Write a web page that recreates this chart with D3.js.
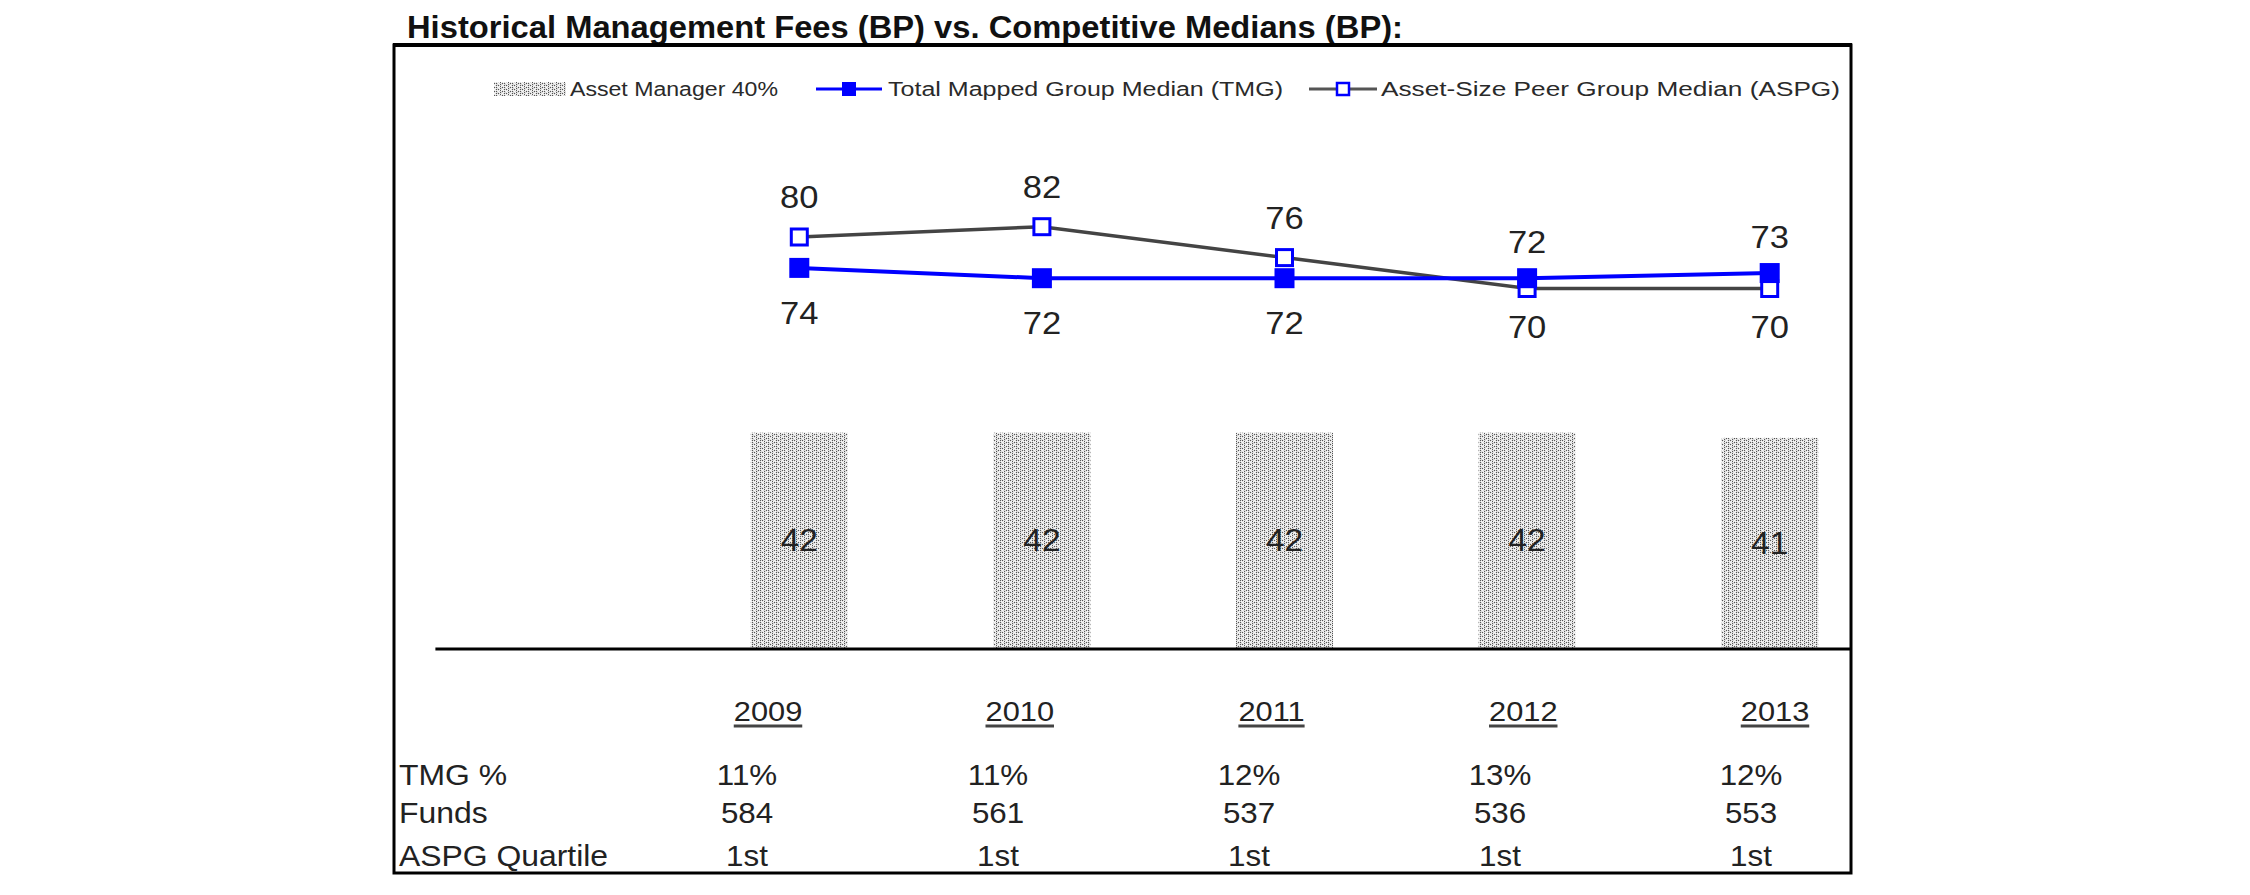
<!DOCTYPE html>
<html><head><meta charset="utf-8">
<script src="https://cdn.jsdelivr.net/npm/d3@7"></script>
<style>html,body{margin:0;padding:0;background:#fff;} svg{display:block;} text{font-family:"Liberation Sans", Arial, sans-serif;}</style>
</head><body><svg id="chart" width="2250" height="895"></svg>
<script>
// ---------- data ----------
const years = ["2009", "2010", "2011", "2012", "2013"];
const assetManager = [42, 42, 42, 42, 41];
const tmgMedian = [74, 72, 72, 72, 73];
const aspgMedian = [80, 82, 76, 70, 70];
const tmgPct = ["11%", "11%", "12%", "13%", "12%"];
const funds = ["584", "561", "537", "536", "553"];
const aspgQuartile = ["1st", "1st", "1st", "1st", "1st"];
const rowLabels = ["TMG %", "Funds", "ASPG Quartile"];
const legendLabels = ["Asset Manager 40%", "Total Mapped Group Median (TMG)", "Asset-Size Peer Group Median (ASPG)"];
const titleText = "Historical Management Fees (BP) vs. Competitive Medians (BP):";

// ---------- setup ----------
const svg = d3.select("#chart");
svg.append("rect").attr("width", 2250).attr("height", 895).attr("fill", "#fff");
const SX = 1.12;
const BLUE = "#0000ff";
const TXT = "#222";

function label(parent, x, y, str, size, opts = {}) {
  const g = parent.append("g").attr("transform", `translate(${x},${y})`);
  const t = g.append("text")
    .attr("transform", `scale(${opts.sx || SX},1)`)
    .attr("text-anchor", opts.anchor || "middle")
    .attr("dominant-baseline", opts.baseline || "auto")
    .attr("font-size", size)
    .attr("font-weight", opts.weight || "normal")
    .attr("fill", opts.fill || TXT)
    .text(str);
  return { g, t };
}

// pattern for the Asset Manager bars
const defs = svg.append("defs");
const pat = defs.append("pattern").attr("id", "dots")
  .attr("patternUnits", "userSpaceOnUse").attr("width", 8).attr("height", 4);
pat.append("rect").attr("width", 8).attr("height", 4).attr("fill", "#dcdcdc");
[[0,0],[0,2],[4,1],[4,3],[2,0],[6,2]].forEach(([px,py]) =>
  pat.append("rect").attr("x", px).attr("y", py).attr("width", 1).attr("height", 1).attr("fill", "#555"));
[[1,1],[3,3],[5,1],[7,3],[2,2],[6,0],[3,1],[7,1]].forEach(([px,py]) =>
  pat.append("rect").attr("x", px).attr("y", py).attr("width", 1).attr("height", 1).attr("fill", "#f8f8f8"));

// ---------- title & frame ----------
svg.append("text").attr("x", 407).attr("y", 38)
  .attr("font-size", 31).attr("font-weight", "bold").attr("fill", "#111")
  .attr("textLength", 996).attr("lengthAdjust", "spacingAndGlyphs")
  .text(titleText);

svg.append("rect").attr("x", 394).attr("y", 45).attr("width", 1457).attr("height", 828)
  .attr("fill", "none").attr("stroke", "#000").attr("stroke-width", 3);
svg.append("line").attr("x1", 393).attr("x2", 1852).attr("y1", 45).attr("y2", 45)
  .attr("stroke", "#000").attr("stroke-width", 4);

// ---------- scales ----------
const x = d3.scaleBand().domain(years).range([678, 1891]).paddingInner(0.6).paddingOuter(0.3);
const y = d3.scaleLinear().domain([0, 100]).range([649, 134]);
const cx = d => x(d) + x.bandwidth() / 2;

// ---------- bars ----------
const barData = years.map((yr, i) => ({ yr, v: assetManager[i] }));
svg.append("g").selectAll("rect").data(barData).join("rect")
  .attr("x", d => x(d.yr)).attr("width", x.bandwidth())
  .attr("y", d => y(d.v)).attr("height", d => y(0) - y(d.v))
  .attr("fill", "url(#dots)");
const barLab = svg.append("g");
barData.forEach(d => label(barLab, cx(d.yr), (y(d.v) + y(0)) / 2, d.v, 31, { baseline: "central", sx: 1.08, fill: "#222" }));

// axis baseline (extends one band-step to the left, ends at the frame)
svg.append("line")
  .attr("x1", x.range()[0] - x.step()).attr("x2", 1850)
  .attr("y1", y(0)).attr("y2", y(0))
  .attr("stroke", "#000").attr("stroke-width", 3);

// ---------- lines ----------
const tmgData = years.map((yr, i) => ({ yr, v: tmgMedian[i] }));
const aspgData = years.map((yr, i) => ({ yr, v: aspgMedian[i] }));
const line = d3.line().x(d => cx(d.yr)).y(d => y(d.v));

svg.append("path").datum(aspgData).attr("d", line)
  .attr("fill", "none").attr("stroke", "#444").attr("stroke-width", 3.5);
svg.append("path").datum(tmgData).attr("d", line)
  .attr("fill", "none").attr("stroke", BLUE).attr("stroke-width", 4);

svg.append("g").selectAll("rect").data(aspgData).join("rect")
  .attr("x", d => cx(d.yr) - 8).attr("y", d => y(d.v) - 8)
  .attr("width", 16).attr("height", 16)
  .attr("fill", "#fff").attr("stroke", BLUE).attr("stroke-width", 3);
svg.append("g").selectAll("rect").data(tmgData).join("rect")
  .attr("x", d => cx(d.yr) - 10).attr("y", d => y(d.v) - 10)
  .attr("width", 20).attr("height", 20).attr("fill", BLUE);

// data labels: higher series above, lower series below
const dl = svg.append("g");
years.forEach((yr, i) => {
  const a = aspgMedian[i], t = tmgMedian[i];
  const aAbove = a >= t;
  label(dl, cx(yr), y(a) + (aAbove ? -40 : 38), a, 32, { baseline: "central", sx: 1.08 });
  label(dl, cx(yr), y(t) + (aAbove ? 45 : -36), t, 32, { baseline: "central", sx: 1.08 });
});

// ---------- legend ----------
const legendTextWidths = [208, 395, 459];   // rendered widths of the legend labels
const lg = svg.append("g").attr("transform", "translate(0,89)");
let lx = 494;
lg.append("rect").attr("x", lx).attr("y", -7).attr("width", 72).attr("height", 14).attr("fill", "url(#dots)");
lx += 76;
function legText(i) {
  lg.append("text").attr("x", lx).attr("y", 0)
    .attr("dominant-baseline", "central").attr("font-size", 20).attr("fill", "#2a2a2a")
    .attr("textLength", legendTextWidths[i]).attr("lengthAdjust", "spacingAndGlyphs")
    .text(legendLabels[i]);
  lx += legendTextWidths[i];
}
legText(0);
lx += 38;
lg.append("line").attr("x1", lx).attr("x2", lx + 66).attr("stroke", BLUE).attr("stroke-width", 3);
lg.append("rect").attr("x", lx + 26).attr("y", -7).attr("width", 14).attr("height", 14).attr("fill", BLUE);
lx += 72;
legText(1);
lx += 26;
lg.append("line").attr("x1", lx).attr("x2", lx + 68).attr("stroke", "#555").attr("stroke-width", 3);
lg.append("rect").attr("x", lx + 28).attr("y", -6).attr("width", 12).attr("height", 12)
  .attr("fill", "#fff").attr("stroke", BLUE).attr("stroke-width", 2.5);
lx += 72;
legText(2);

// ---------- table ----------
const colHead = d3.scalePoint().domain(years).range([768, 1775]);
const colVal = d3.scalePoint().domain(years).range([747, 1751]);
const tb = svg.append("g");
years.forEach(yr => {
  const { g, t } = label(tb, colHead(yr), 721, yr, 28, { sx: 1.1 });
  const bb = t.node().getBBox();
  g.append("line").attr("transform", "scale(1.1,1)")
    .attr("x1", bb.x).attr("x2", bb.x + bb.width).attr("y1", 5).attr("y2", 5)
    .attr("stroke", "#444").attr("stroke-width", 3);
});
const rowY = [785, 823, 866];
rowLabels.forEach((r, j) => label(tb, 399, rowY[j], r, 29, { anchor: "start", sx: 1.1 }));
[tmgPct, funds, aspgQuartile].forEach((row, j) => {
  years.forEach((yr, i) => label(tb, colVal(yr), rowY[j], row[i], 29, { sx: 1.08 }));
});
</script></body></html>
